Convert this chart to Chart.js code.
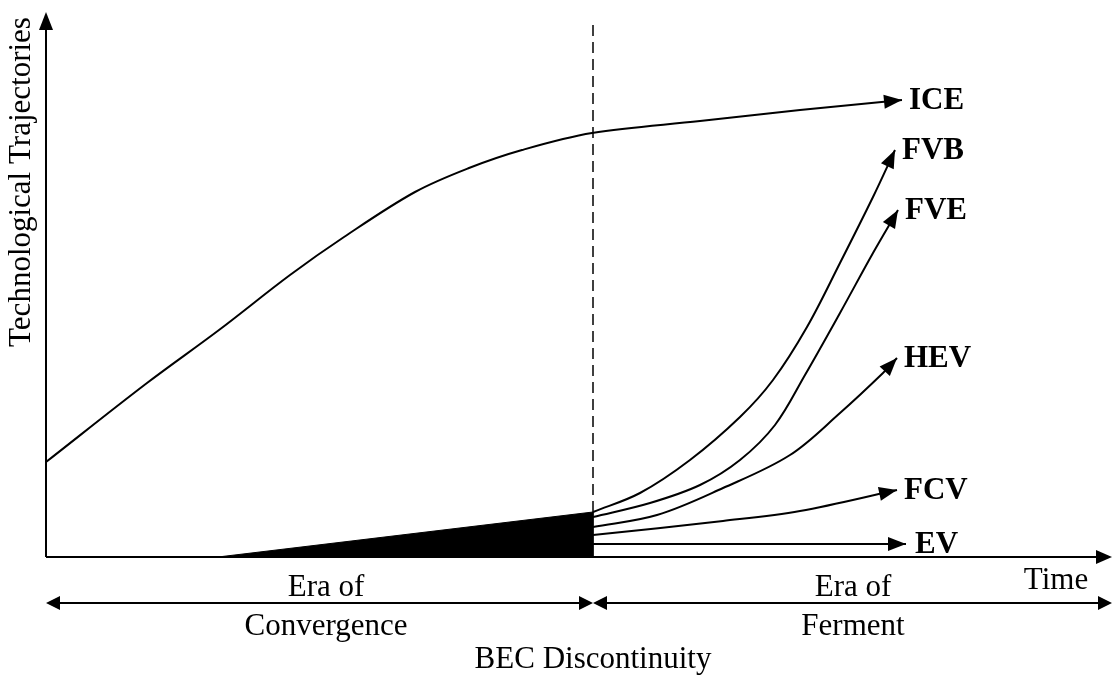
<!DOCTYPE html>
<html>
<head>
<meta charset="utf-8">
<script src="https://cdn.jsdelivr.net/npm/chart.js@4/dist/chart.umd.min.js"></script>
<style>
  html, body { margin: 0; padding: 0; background: #fff; }
  #wrap { width: 1112px; height: 677px; position: relative; }
</style>
</head>
<body>
<div id="wrap"><canvas id="chart"></canvas></div>
<script>
// trajectory names (labels drawn at arrow tips)
const trajectories = ['ICE', 'FVB', 'FVE', 'HEV', 'FCV', 'EV'];

// values (time on x, level on y)
const iceX = [0, 101, 173, 244, 298, 369, 423, 476, 546, 654, 754, 856];
const iceY = [95, 174, 227, 282, 320, 365, 389, 407, 424, 436, 447, 457];

const fvbX = [547, 594, 644, 694, 727, 761, 794, 827, 849];
const fvbY = [45, 64, 97, 140, 177, 230, 294, 360, 407];

const fveX = [547, 604, 654, 694, 729, 759, 794, 827, 852];
const fveY = [40, 54, 72, 97, 132, 182, 244, 304, 347];

const hevX = [547, 611, 677, 744, 794, 837, 851];
const hevY = [30, 42, 69, 102, 144, 184, 199];

const fcvX = [547, 677, 754, 851];
const fcvY = [22, 36, 46, 67];

const evX = [547, 860];
const evY = [13, 13];

// dominant-design wedge before the discontinuity
const wedgeX = [172, 547];
const wedgeY = [0, 45];

// BEC discontinuity line
const discX = [547, 547];
const discY = [45, 537];

function pts(xs, ys) {
    return xs.map((x, i) => ({ x: x, y: ys[i] }));
}

const serif = '"Liberation Serif", "Times New Roman", serif';

function arrowHead(ctx, x, y, ang, len, half) {
    ctx.save();
    ctx.translate(x, y);
    ctx.rotate(ang);
    ctx.beginPath();
    ctx.moveTo(0, 0);
    ctx.lineTo(-len, -half);
    ctx.lineTo(-len, half);
    ctx.closePath();
    ctx.fillStyle = '#000';
    ctx.fill();
    ctx.restore();
}

const decorations = {
    id: 'decorations',
    afterDatasetsDraw(chart) {
        const ctx = chart.ctx;
        const xs = chart.scales.x;
        const ys = chart.scales.y;
        const area = chart.chartArea;

        // arrow heads + labels at the end of each trajectory
        chart.data.datasets.forEach((ds, i) => {
            if (!ds.arrow) return;
            const meta = chart.getDatasetMeta(i);
            const n = meta.data.length;
            const last = meta.data[n - 1];
            let px = last.cp1x, py = last.cp1y;
            if (px === undefined || (Math.abs(px - last.x) < 0.5 && Math.abs(py - last.y) < 0.5)) {
                px = meta.data[n - 2].x;
                py = meta.data[n - 2].y;
            }
            const ang = Math.atan2(last.y - py, last.x - px);
            arrowHead(ctx, last.x, last.y, ang, 18, 7);
            ctx.save();
            ctx.font = 'bold 31px ' + serif;
            ctx.fillStyle = '#000';
            ctx.textBaseline = 'middle';
            ctx.textAlign = 'left';
            ctx.fillText(ds.label, last.x + (ds.label === 'EV' ? 9 : 7), last.y + 1);
            ctx.restore();
        });

        // axes
        ctx.save();
        ctx.strokeStyle = '#000';
        ctx.lineWidth = 2;
        ctx.beginPath();
        ctx.moveTo(area.left, area.bottom);
        ctx.lineTo(area.left, area.top + 10);
        ctx.moveTo(area.left, area.bottom);
        ctx.lineTo(area.right - 10, area.bottom);
        ctx.stroke();
        arrowHead(ctx, area.left, area.top, -Math.PI / 2, 18, 7);
        arrowHead(ctx, area.right, area.bottom, 0, 16, 7);

        // era arrows below the axis
        const yEra = area.bottom + 46;
        const xMid = xs.getPixelForValue(discX[0]);
        ctx.beginPath();
        ctx.moveTo(area.left + 8, yEra);
        ctx.lineTo(xMid - 8, yEra);
        ctx.moveTo(xMid + 8, yEra);
        ctx.lineTo(area.right - 8, yEra);
        ctx.stroke();
        arrowHead(ctx, area.left, yEra, Math.PI, 14, 7);
        arrowHead(ctx, xMid, yEra, 0, 14, 7);
        arrowHead(ctx, xMid, yEra, Math.PI, 14, 7);
        arrowHead(ctx, area.right, yEra, 0, 14, 7);

        // texts
        ctx.fillStyle = '#000';
        ctx.font = '31px ' + serif;
        ctx.textAlign = 'center';
        ctx.textBaseline = 'middle';
        const xConv = xs.getPixelForValue(280);
        const xFerm = xs.getPixelForValue(807);
        ctx.fillText('Era of', xConv, yEra - 15);
        ctx.fillText('Convergence', xConv, yEra + 24);
        ctx.fillText('Era of', xFerm, yEra - 15);
        ctx.fillText('Ferment', xFerm, yEra + 24);
        ctx.fillText('Time', xs.getPixelForValue(1010), yEra - 22);
        ctx.fillText('BEC Discontinuity', xMid, yEra + 57);

        ctx.translate(22, ys.getPixelForValue(375));
        ctx.rotate(-Math.PI / 2);
        ctx.fillText('Technological Trajectories', 0, 0);
        ctx.restore();
    }
};

function curve(label, xs, ys) {
    return {
        label: label,
        data: pts(xs, ys),
        showLine: true,
        borderColor: '#000',
        borderWidth: 2,
        pointRadius: 0,
        tension: 0.35,
        fill: false,
        arrow: true
    };
}

new Chart(document.getElementById('chart'), {
    type: 'scatter',
    data: {
        datasets: [
            curve(trajectories[0], iceX, iceY),
            curve(trajectories[1], fvbX, fvbY),
            curve(trajectories[2], fveX, fveY),
            curve(trajectories[3], hevX, hevY),
            curve(trajectories[4], fcvX, fcvY),
            curve(trajectories[5], evX, evY),
            {
                label: 'wedge',
                data: pts(wedgeX, wedgeY).concat([{ x: wedgeX[1], y: 0 }]),
                showLine: true,
                borderColor: '#000',
                borderWidth: 1,
                backgroundColor: '#000',
                pointRadius: 0,
                fill: 'origin'
            },
            {
                label: 'discontinuity',
                data: pts(discX, discY),
                showLine: true,
                borderColor: '#000',
                borderWidth: 1.5,
                borderDash: [11, 6],
                pointRadius: 0
            }
        ]
    },
    options: {
        responsive: true,
        maintainAspectRatio: false,
        animation: false,
        layout: { padding: { left: 46, right: 0, top: 12, bottom: 120 } },
        plugins: {
            legend: { display: false },
            tooltip: { enabled: false }
        },
        scales: {
            x: { type: 'linear', min: 0, max: 1066, display: false },
            y: { type: 'linear', min: 0, max: 545, display: false }
        }
    },
    plugins: [decorations]
});
</script>
</body>
</html>
